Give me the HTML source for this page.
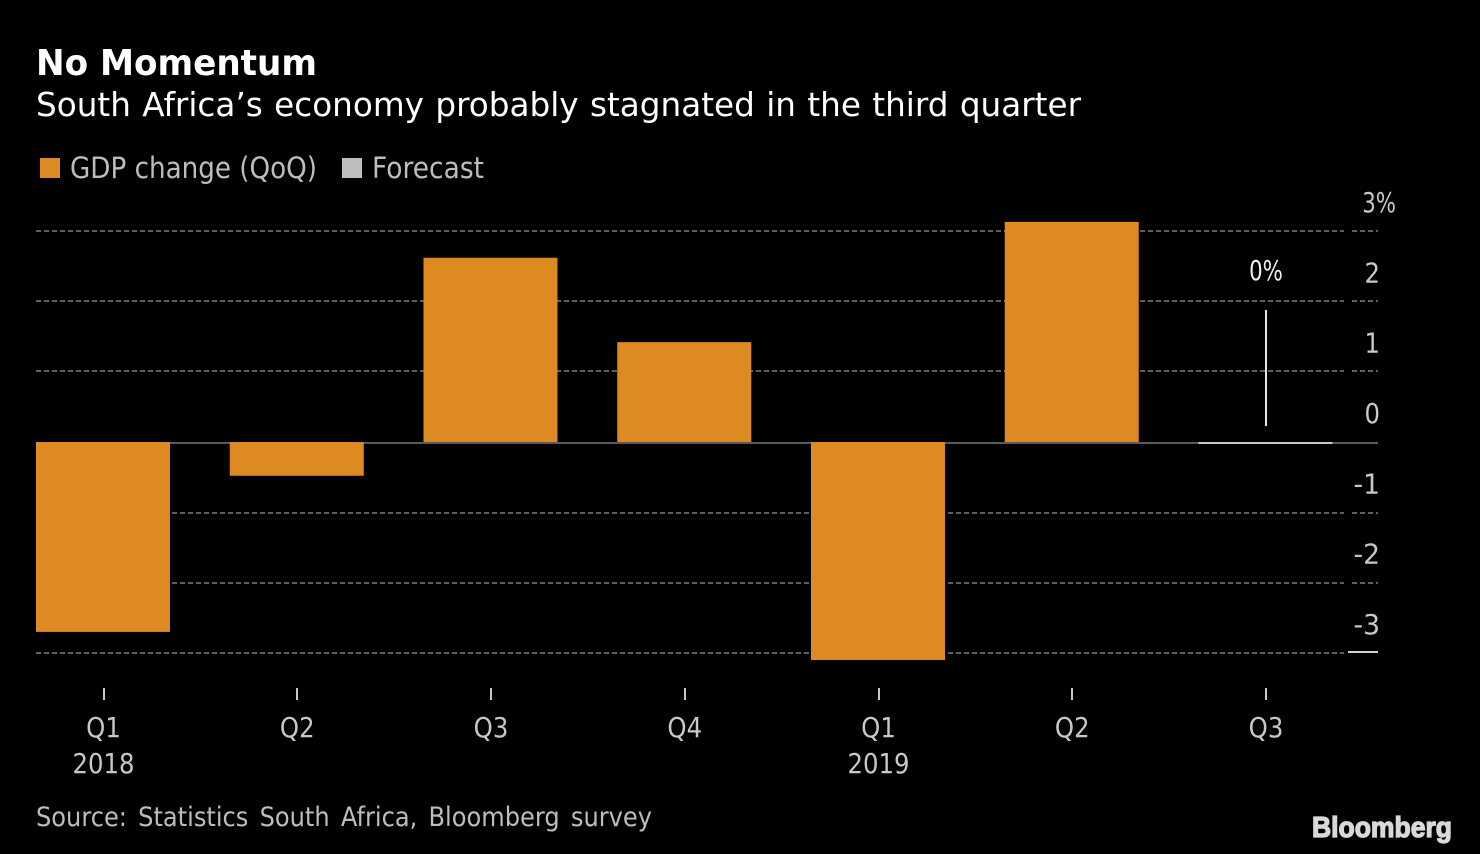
<!DOCTYPE html>
<html lang="en">
<head>
<meta charset="utf-8">
<title>No Momentum</title>
<style>
html,body{margin:0;padding:0;background:#000;}
body{width:1480px;height:854px;overflow:hidden;}
svg{display:block;font-family:"DejaVu Sans","Liberation Sans",sans-serif;}
</style>
</head>
<body>
<svg id="chart" width="1480" height="854" viewBox="0 0 1480 854" xmlns="http://www.w3.org/2000/svg">
  <rect x="0" y="0" width="1480" height="854" fill="#000"/>
  <text x="36" y="75" font-size="36" font-weight="bold" fill="#fff" textLength="281" lengthAdjust="spacingAndGlyphs">No Momentum</text>
  <text x="36" y="116" font-size="33" fill="#fff" word-spacing="1" textLength="1045" lengthAdjust="spacingAndGlyphs">South Africa’s economy probably stagnated in the third quarter</text>
  <g>
    <rect x="40" y="158" width="20" height="20" fill="#de8a23"/>
    <text x="70" y="178" font-size="29" fill="#bdbdbd" textLength="247" lengthAdjust="spacingAndGlyphs">GDP change (QoQ)</text>
    <rect x="342" y="158" width="20" height="20" fill="#bdbdbd"/>
    <text x="372" y="178" font-size="29" fill="#bdbdbd" textLength="112" lengthAdjust="spacingAndGlyphs">Forecast</text>
  </g>
  <g id="grid"></g>
  <g id="bars"></g>
  <g id="yaxis"></g>
  <g id="xaxis"></g>
  <g id="annotation"></g>
  <text x="36" y="826" font-size="27" fill="#bdbdbd" word-spacing="4" textLength="616" lengthAdjust="spacingAndGlyphs">Source: Statistics South Africa, Bloomberg survey</text>
  <text x="1312" y="837" font-family="Liberation Sans, sans-serif" font-size="29" font-weight="bold" fill="#d9d9d9" stroke="#d9d9d9" stroke-width="1.3" textLength="140" lengthAdjust="spacingAndGlyphs">Bloomberg</text>
</svg>
<script>
var categories = ["Q1", "Q2", "Q3", "Q4", "Q1", "Q2", "Q3"];
var years = ["2018", "", "", "", "2019", "", ""];
var gdpChange = [-2.7, -0.48, 2.62, 1.42, -3.1, 3.13, 0];
var forecastFlags = [false, false, false, false, false, false, true];
var yTicks = [3, 2, 1, 0, -1, -2, -3];
var yTickLabels = ["3%", "2", "1", "0", "-1", "-2", "-3"];
var forecastLabel = "0%";

var SVGNS = "http://www.w3.org/2000/svg";
var zeroY = 442;
var unitY = 70.33;
var firstCenter = 103;
var stepX = 193.75;
var barWidth = 134;
var gridLeft = 36;
var gridRight = 1378;
var textSqueeze = 0.87;
var negativeSqueeze = 0.95;
var percentSqueeze = 0.76;

function yScale(v) { return zeroY - v * unitY; }
function xScale(i) { return firstCenter + i * stepX; }
function make(tag, attrs, parent) {
  var el = document.createElementNS(SVGNS, tag);
  for (var k in attrs) { el.setAttribute(k, attrs[k]); }
  parent.appendChild(el);
  return el;
}
function squeezed(x, y, anchor, squeeze, fill, parent) {
  return make("text", {x: 0, y: 0, transform: "translate(" + x + " " + y + ") scale(" + squeeze + " 1)", "text-anchor": anchor, "font-size": 28, fill: fill}, parent);
}

var gridG = document.getElementById("grid");
var barsG = document.getElementById("bars");
var yG = document.getElementById("yaxis");
var xG = document.getElementById("xaxis");
var annG = document.getElementById("annotation");

yTicks.forEach(function (t, i) {
  var y = t > 0 ? Math.floor(yScale(t)) : Math.ceil(yScale(t));
  if (t !== 0) {
    var seg = make("line", {x1: gridLeft, x2: 1344, y1: y, y2: y, stroke: "#5e5e5e", "stroke-width": 2, "stroke-dasharray": "5 3"}, gridG);
    
    
    if (t !== -3) {
      var seg2 = make("line", {x1: 1352, x2: gridRight, y1: y, y2: y, stroke: "#5e5e5e", "stroke-width": 2, "stroke-dasharray": "5 3"}, gridG);
      
      
    } else {
      var seg3 = make("line", {x1: 1348, x2: gridRight, y1: y - 1, y2: y - 1, stroke: "#d0d0d0", "stroke-width": 2}, gridG);
      
      
    }
  } else {
    var zero = make("line", {x1: gridLeft, x2: gridRight, y1: y + 1, y2: y + 1, stroke: "#5a5a5a", "stroke-width": 2}, gridG);
    
    
  }
  var isPercent = yTickLabels[i].indexOf("%") >= 0;
  var squeeze = isPercent ? percentSqueeze : (t < 0 ? negativeSqueeze : textSqueeze);
  var lab = squeezed(isPercent ? 1396 : 1380, yScale(t) - 19, "end", squeeze, "#c8c8c8", yG);
  
  
  lab.textContent = yTickLabels[i];
});

gdpChange.forEach(function (v, i) {
  var cx = xScale(i);
  if (forecastFlags[i]) {
    var fl = make("line", {x1: cx - barWidth / 2, x2: cx + barWidth / 2, y1: yScale(v) + 1, y2: yScale(v) + 1, stroke: "#c8c8c8", "stroke-width": 2}, barsG);
    
    
  } else {
    var y0 = yScale(Math.max(v, 0));
    var y1 = yScale(Math.min(v, 0));
    var r = make("rect", {x: cx - barWidth / 2, y: y0, width: barWidth, height: y1 - y0, fill: "#de8a23"}, barsG);
    
    
  }
});

categories.forEach(function (c, i) {
  var cx = xScale(i);
  var tx = Math.round(cx + 0.5);
  var tick = make("line", {x1: tx, x2: tx, y1: 688, y2: 700, stroke: "#c8c8c8", "stroke-width": 2}, xG);
  
  
  var t = squeezed(cx + 0.5, 737, "middle", textSqueeze, "#c8c8c8", xG);
  
  
  t.textContent = c;
  if (years[i]) {
    var yr = squeezed(cx + 0.5, 773, "middle", textSqueeze, "#c8c8c8", xG);
    
    
    yr.textContent = years[i];
  }
});

var fi = forecastFlags.indexOf(true);
var fx = Math.round(xScale(fi) + 0.5);
var ann = make("line", {x1: fx, x2: fx, y1: yScale(gdpChange[fi]) - 132, y2: yScale(gdpChange[fi]) - 16, stroke: "#e6e6e6", "stroke-width": 2}, annG);


var annT = squeezed(fx, yScale(gdpChange[fi]) - 162, "middle", percentSqueeze, "#f0f0f0", annG);


annT.textContent = forecastLabel;
</script>
</body>
</html>
